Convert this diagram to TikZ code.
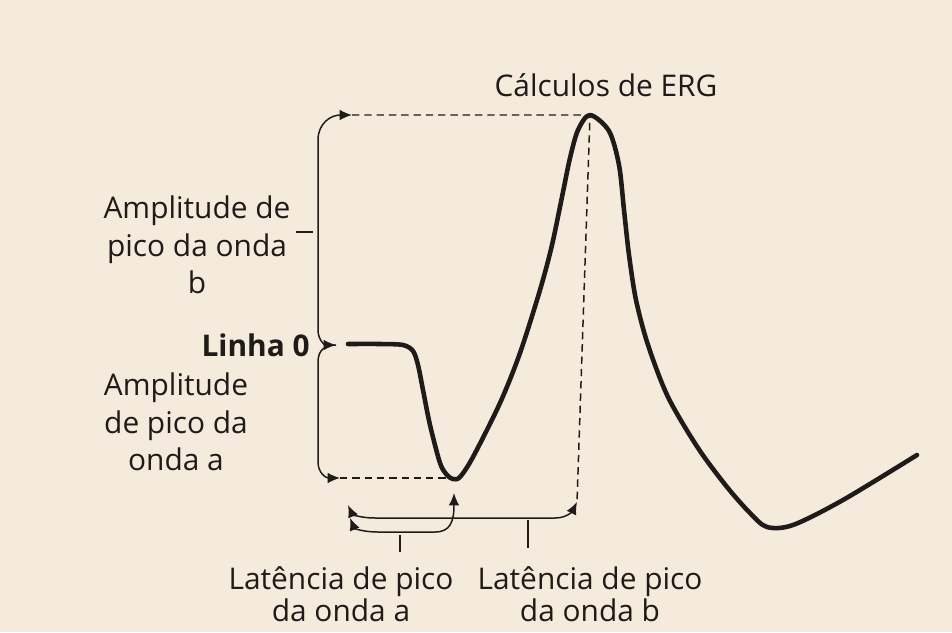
\documentclass[tikz,border=0pt]{standalone}
\usepackage{fontspec}
\setmainfont{Open Sans}
\usetikzlibrary{arrows.meta, positioning}
\definecolor{ergpaper}{HTML}{F4EBDC}
\definecolor{ergink}{HTML}{1F1B18}

\begin{document}
\begin{tikzpicture}[
      x=0.02cm, y=-0.02cm,
      >={Latex[length=7pt, width=6pt]},
      wave/.style={draw=ergink, line width=2.6pt, line join=round, line cap=round},
      brk/.style={draw=ergink, line width=0.85pt},
      guide/.style={draw=ergink, line width=0.85pt, dash pattern=on 4.2pt off 2.8pt},
      lbl/.style={text=ergink, font=\fontsize{17}{21.5}\selectfont, align=center, inner sep=0pt},
      latlbl/.style={lbl, font=\fontsize{17}{16}\selectfont}
    ]
      % paper
      \fill[ergpaper] (0,0) rectangle (952,632);

      % key points of the wave
      \coordinate (peak) at (590,115);
      \coordinate (trough) at (453,478);
      \coordinate (atop) at (352,115);
      \coordinate (azero) at (336,345);
      \coordinate (abot) at (340,478);
      \coordinate (bdot) at (577,502);
      \coordinate (la1) at (348,505);
      \coordinate (la2) at (350,518);
      \coordinate (tipa) at (454,493);

      % labels
      \node[lbl, anchor=base] (title) at (606,96) {Cálculos de ERG};
      \node[lbl] (ampb) at (197,245) {Amplitude de\\pico da onda\\b};
      \node[lbl, anchor=east, font=\fontsize{17}{21.5}\selectfont\bfseries] (linha0) at (310,345) {Linha 0};
      \node[lbl] (ampa) at (176,422) {Amplitude\\de pico da\\onda a};
      \node[latlbl] (lata) at (341,594) {Latência de pico\\da onda a};
      \node[latlbl] (latb) at (590,594) {Latência de pico\\da onda b};

      % the wave
      \draw[wave] plot[smooth, tension=0.5] coordinates {
        (348,344) (380,344) (403,345) (413,351) (418,365) (423,390) (430,425)
        (440,463) (447,475) (453,479) (460,477) (473,457) (500,403) (520,353)
        (540,290) (552,245) (563,192) (570,158) (578,130) (590,115) (609,131)
        (619,165) (624,210) (629,255) (636,300) (648,345) (668,397) (698,448)
        (727,487) (750,513) (767,527) (793,525) (843,500) (917,455)};

      % dashed guides
      \draw[guide] (atop) -- (peak) -- (bdot);
      \draw[guide] (abot) -- (trough);

      % amplitude brackets
      \draw[brk, <->] (atop) .. controls (330,115) and (318,124) .. (318,140)
        -- (318,330) .. controls (318,340) and (325,345) .. (azero);
      \draw[brk, ->] (azero) .. controls (325,345) and (318,350) .. (318,362)
        -- (318,462) .. controls (318,473) and (326,478) .. (abot);
      \draw[brk] (296,232) -- (313,232);

      % latency brackets
      \draw[brk, <->] (la1) .. controls (352,514) and (360,518) .. (375,518)
        -- (555,518) .. controls (568,518) and (573,510) .. (bdot);
      \draw[brk, <->] (la2) .. controls (354,528) and (362,532) .. (378,532)
        -- (435,532) .. controls (450,532) and (454,522) .. (tipa);
      \draw[brk] (400,535) -- (400,552);
      \draw[brk] (528,520) -- (528,548);
    \end{tikzpicture}
\end{document}
